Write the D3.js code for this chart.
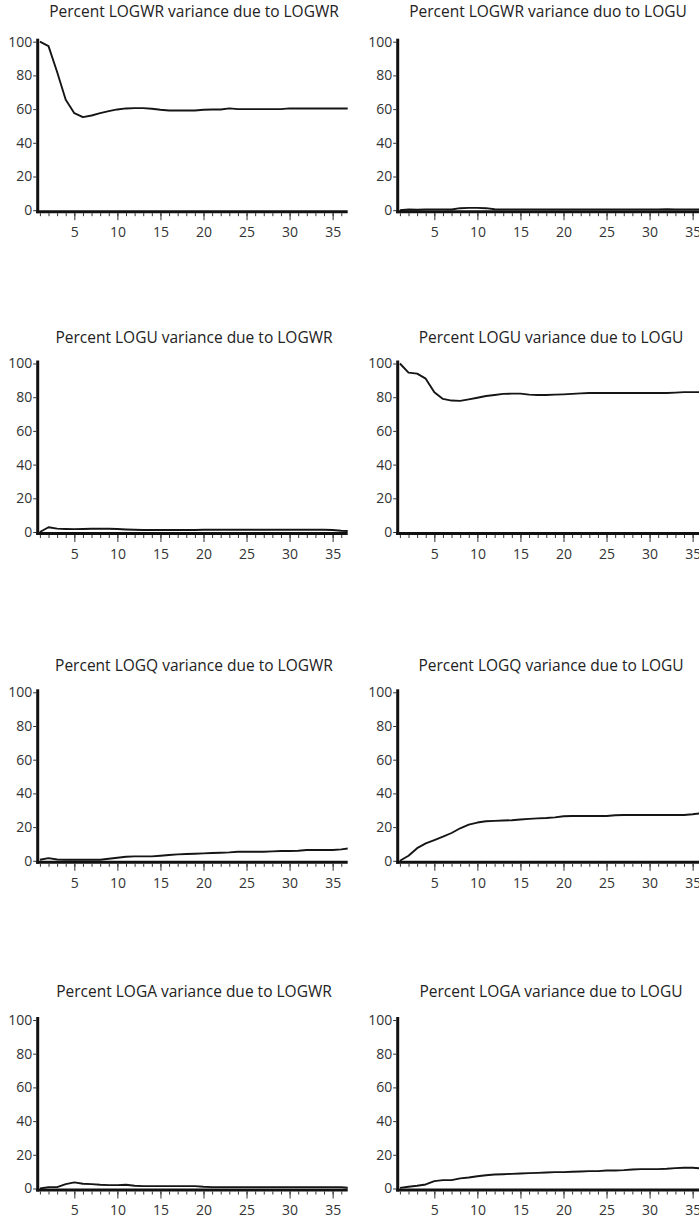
<!DOCTYPE html>
<html>
<head>
<meta charset="utf-8">
<script src="https://cdn.jsdelivr.net/npm/d3@7/dist/d3.min.js"></script>
<style>
  html, body { margin: 0; padding: 0; background: #fff; }
  svg { display: block; }
  text { font-family: "Open Sans", "Noto Sans", sans-serif; }
</style>
</head>
<body>
<svg id="chart" width="699" height="1222"></svg>
<script>
// ---------- DATA ----------
const periods = [1,2,3,4,5,6,7,8,9,10,11,12,13,14,15,16,17,18,19,20,21,22,23,24,25,26,27,28,29,30,31,32,33,34,35,36,37];
const xTickValues = [5,10,15,20,25,30,35];
const yTickValues = [0,20,40,60,80,100];

const titles = [
  "Percent LOGWR variance due to LOGWR", "Percent LOGWR variance duo to LOGU",
  "Percent LOGU variance due to LOGWR",  "Percent LOGU variance due to LOGU",
  "Percent LOGQ variance due to LOGWR",  "Percent LOGQ variance due to LOGU",
  "Percent LOGA variance due to LOGWR",  "Percent LOGA variance due to LOGU"
];

const logwrDueLogwr = [100,97.4,82,65.5,57.6,55.2,56.2,57.6,58.8,59.8,60.4,60.6,60.6,60.2,59.6,59.2,59.2,59.2,59.2,59.6,59.8,59.8,60.4,60,60,60,60,60,60,60.4,60.4,60.4,60.4,60.4,60.4,60.4,60.4];
const logwrDueLogu  = [0,0.4,0.3,0.5,0.5,0.5,0.4,1.2,1.4,1.4,1.2,0.6,0.5,0.5,0.5,0.5,0.5,0.5,0.5,0.5,0.5,0.5,0.5,0.5,0.5,0.5,0.5,0.5,0.5,0.5,0.5,0.6,0.5,0.5,0.5,0.5,0.5];
const loguDueLogwr  = [0,2.8,2.0,1.8,1.7,1.8,1.9,1.9,1.9,1.8,1.5,1.3,1.2,1.2,1.2,1.2,1.2,1.2,1.2,1.3,1.3,1.3,1.3,1.3,1.3,1.3,1.3,1.3,1.3,1.3,1.3,1.3,1.3,1.3,1.2,0.7,0.6];
const loguDueLogu   = [100,94.6,94,91,83,79,78,77.8,78.7,79.7,80.7,81.3,82,82.1,82.1,81.5,81.3,81.3,81.5,81.7,82,82.3,82.5,82.5,82.5,82.5,82.5,82.5,82.5,82.5,82.5,82.5,82.7,83,83,83,83];
const logqDueLogwr  = [0.6,1.6,0.8,0.6,0.6,0.6,0.6,0.6,1.2,1.8,2.4,2.6,2.6,2.6,3.0,3.4,3.8,4.0,4.2,4.4,4.6,4.8,5.0,5.4,5.4,5.4,5.4,5.6,5.8,5.8,6.0,6.4,6.4,6.4,6.4,6.8,7.4];
const logqDueLogu   = [0,3.0,7.5,10.3,12.3,14.3,16.5,19.3,21.5,22.7,23.5,23.7,23.9,24.1,24.5,24.9,25.2,25.4,25.8,26.4,26.6,26.6,26.6,26.6,26.6,27,27.2,27.2,27.2,27.2,27.2,27.2,27.2,27.2,27.6,28.2,28.2];
const logaDueLogwr  = [0,0.8,0.8,2.6,3.6,2.8,2.6,2.2,2.0,2.0,2.2,1.6,1.4,1.4,1.4,1.4,1.4,1.4,1.4,1.0,0.8,0.8,0.8,0.8,0.8,0.8,0.8,0.8,0.8,0.8,0.8,0.8,0.8,0.8,0.8,0.8,0.4];
const logaDueLogu   = [0.4,1.0,1.6,2.4,4.4,5.0,5.0,6.0,6.5,7.3,7.9,8.3,8.5,8.7,8.9,9.1,9.3,9.5,9.7,9.7,9.9,10.1,10.3,10.3,10.7,10.7,10.9,11.3,11.5,11.5,11.5,11.7,12.1,12.3,12.3,11.9,11.9];

const seriesList = [logwrDueLogwr, logwrDueLogu, loguDueLogwr, loguDueLogu, logqDueLogwr, logqDueLogu, logaDueLogwr, logaDueLogu];

// ---------- LAYOUT ----------
const colAxisX = [37.7, 397.7];
const rowTop = [41.7, 363.5, 692.3, 1020];
const titleBase = [17.3, 342.7, 670.7, 996.7];
const titleCenter = [194, 551];
const plotH = 168.5;
const unit = 8.61;
const axisLen = 310;

const svg = d3.select("#chart");

seriesList.forEach((vals, i) => {
  const row = Math.floor(i / 2), col = i % 2;
  const ax = colAxisX[col];
  const top = rowTop[row];
  const y0 = top + plotH;

  const x = d3.scaleLinear().domain([1, 37]).range([ax + 2.2, ax + 2.2 + 36 * unit]);
  const y = d3.scaleLinear().domain([0, 100]).range([y0, top]);

  const g = svg.append("g");

  // title
  g.append("text")
    .attr("x", (i === 1) ? 548 : titleCenter[col])
    .attr("y", titleBase[row])
    .attr("text-anchor", "middle")
    .attr("font-size", 15.5)
    .attr("fill", "#222")
    .text(titles[i]);

  // clip
  const cid = "clip" + i;
  g.append("clipPath").attr("id", cid)
    .append("rect")
    .attr("x", ax).attr("y", top - 10)
    .attr("width", axisLen).attr("height", plotH + 12);

  // data line
  const line = d3.line().x((d, k) => x(periods[k])).y(d => y(d));
  g.append("path")
    .datum(vals)
    .attr("clip-path", `url(#${cid})`)
    .attr("fill", "none")
    .attr("stroke", "#151515")
    .attr("stroke-width", 1.9)
    .attr("stroke-linejoin", "round")
    .attr("d", line);

  // y axis ticks + labels
  const yAxis = d3.axisLeft(y).tickValues(yTickValues).tickSize(3).tickPadding(1);
  const ya = g.append("g").attr("transform", `translate(${ax - 1.5},0)`).call(yAxis);
  ya.select(".domain").remove();
  ya.selectAll(".tick line").attr("stroke", "#333").attr("stroke-width", 1);
  ya.selectAll(".tick text").attr("font-size", 14).attr("fill", "#333")
    .attr("font-family", "'Open Sans','Noto Sans',sans-serif");

  // x minor ticks
  const xMinor = d3.axisBottom(x).tickValues(periods.slice(0, 36)).tickSize(3).tickFormat("");
  const xm = g.append("g").attr("transform", `translate(0,${y0 + 3})`).call(xMinor);
  xm.select(".domain").remove();
  xm.selectAll(".tick line").attr("stroke", "#333").attr("stroke-width", 1);

  // x major ticks + labels
  const xMajor = d3.axisBottom(x).tickValues(xTickValues).tickSize(7).tickPadding(7);
  const xM = g.append("g").attr("transform", `translate(0,${y0 + 3})`).call(xMajor);
  xM.select(".domain").remove();
  xM.selectAll(".tick line").attr("stroke", "#333").attr("stroke-width", 1);
  xM.selectAll(".tick text").attr("font-size", 14).attr("fill", "#333")
    .attr("font-family", "'Open Sans','Noto Sans',sans-serif");

  // axis lines (thick)
  g.append("line")
    .attr("x1", ax).attr("x2", ax)
    .attr("y1", top - 3).attr("y2", y0 + 3)
    .attr("stroke", "#111").attr("stroke-width", 3);
  g.append("line")
    .attr("x1", ax - 1.5).attr("x2", ax + axisLen)
    .attr("y1", y0 + 1.5).attr("y2", y0 + 1.5)
    .attr("stroke", "#111").attr("stroke-width", 3);
});
</script>
</body>
</html>
